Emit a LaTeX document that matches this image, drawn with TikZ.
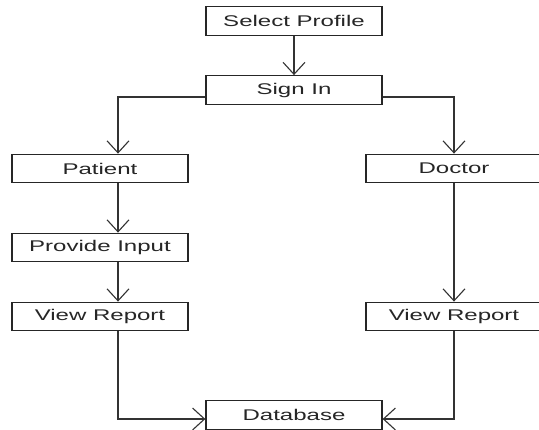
\documentclass[tikz,border=0pt]{standalone}
\usepackage{fontspec}
\newfontfamily\wf[FakeStretch=1.55]{Liberation Sans}
\usetikzlibrary{arrows.meta}
\begin{document}
\begin{tikzpicture}[x=1pt,y=-1pt,
  box/.style={draw=black!85,line width=1.3pt,fill=white,minimum width=176pt,minimum height=28.5pt,inner sep=0pt,font=\wf\fontsize{15.5}{17}\selectfont,text=black!85},
  conn/.style={draw=black!80,line width=1.2pt,-{Straight Barb[length=12pt,width=22pt,line width=1.1pt]}}]
\useasboundingbox (0,0) rectangle (539,430);
\clip (0,0) rectangle (539,430);
\fill[white] (0,0) rectangle (539,430);
\node[box] (sel) at (294,21) {Select Profile};
\node[box] (sign) at (294,90) {Sign In};
\node[box] (pat) at (100,168.5) {Patient};
\node[box] (doc) at (454,168.5) {Doctor};
\node[box] (inp) at (100,247.5) {Provide Input};
\node[box] (vrl) at (100,316.5) {View Report};
\node[box] (vrr) at (454,316.5) {View Report};
\node[box] (db) at (294,415) {Database};
\draw[conn] (sel) -- (sign);
\draw[conn] ([yshift=-7pt]sign.west) -| ([xshift=18pt]pat.north);
\draw[conn] ([yshift=-7pt]sign.east) -| (doc.north);
\draw[conn] ([xshift=18pt]pat.south) -- ([xshift=18pt]inp.north);
\draw[conn] ([xshift=18pt]inp.south) -- ([xshift=18pt]vrl.north);
\draw[conn] (doc.south) -- (vrr.north);
\draw[conn] ([xshift=18pt]vrl.south) |- ([yshift=-4pt]db.west);
\draw[conn] (vrr.south) |- ([yshift=-4pt]db.east);
\end{tikzpicture}
\end{document}
